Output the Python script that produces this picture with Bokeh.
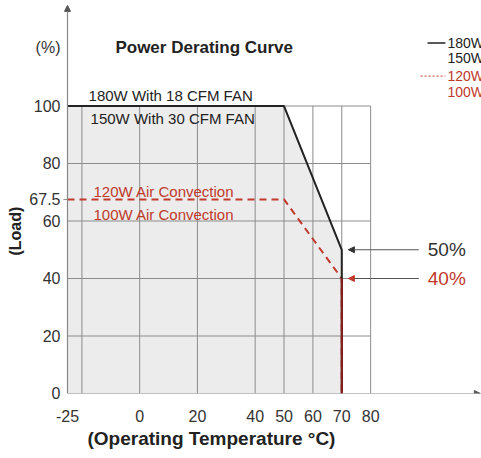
from bokeh.plotting import figure
from bokeh.models import FixedTicker, Title, Arrow, NormalHead
from bokeh.core.properties import value
from bokeh.embed import file_html
from bokeh.resources import INLINE

# ---- data ----
x_ticks = [-25, 0, 20, 40, 50, 60, 70, 80]
y_ticks = [0, 20, 40, 60, 67.5, 80, 100]
v_grid = [-20, 0, 20, 40, 50, 60, 70, 80]
h_grid = [20, 40, 60, 80, 100]
fan_temp = [-25, 50, 70, 70]
fan_load = [100, 100, 50, 0]
conv_temp = [-25, 50, 70, 70]
conv_load = [67.5, 67.5, 40, 0]
fan_labels = ["180W With 18 CFM FAN", "150W With 30 CFM FAN"]
conv_labels = ["120W Air Convection", "100W Air Convection"]
legend_fan = ["180W", "150W"]
legend_conv = ["120W", "100W"]
end_levels = [50, 40]
end_texts = ["50%", "40%"]
unit_level = 120.5
unit_text = "(%)"

FONT = "Liberation Sans"
RED = "#c0392b"
GRID = "#8c8c8c"

W, H = 481, 458
p = figure(width=W, height=H, output_backend="svg", toolbar_location=None,
           x_range=(-26.73, 118.4), y_range=(0, 136.7),
           min_border_left=62, min_border_right=0, min_border_top=0,
           min_border_bottom=65)
p.outline_line_color = None
p.xgrid.visible = False
p.ygrid.visible = False
p.background_fill_color = "white"

# axes
p.xaxis.ticker = FixedTicker(ticks=x_ticks)
p.xaxis.major_label_overrides = {-25: "-25"}
p.yaxis.ticker = FixedTicker(ticks=y_ticks + [unit_level])
p.yaxis.major_label_overrides = {67.5: "67.5", unit_level: unit_text}
for ax in (p.xaxis[0], p.yaxis[0]):
    ax.axis_line_color = None
    ax.minor_tick_line_color = None
    ax.major_tick_line_color = None
    ax.major_label_text_font = FONT
    ax.major_label_text_font_size = "16px"
    ax.major_label_text_color = "#333333"
p.xaxis.major_label_standoff = 10
p.yaxis.major_tick_out = 0
p.yaxis.major_tick_in = 0
p.yaxis.major_label_standoff = 2

# axis titles
p.add_layout(Title(text="(Operating Temperature °C)", align="left", offset=25,
                   text_font=FONT, text_font_size="19px", text_font_style="bold",
                   text_color="#222222", standoff=2), "below")
p.add_layout(Title(text="(Load)", align="left", offset=138,
                   text_font=FONT, text_font_size="16px", text_font_style="bold",
                   text_color="#222222", standoff=6), "left")

# shaded area under fan curve
p.patch(x=[-25] + fan_temp, y=[0] + fan_load, fill_color="#ececec", line_color=None)

# grid
p.segment(x0=v_grid, y0=[0] * len(v_grid), x1=v_grid, y1=[100] * len(v_grid),
          line_color=GRID, line_width=1)
p.segment(x0=[-25] * len(h_grid), y0=h_grid, x1=[80] * len(h_grid), y1=h_grid,
          line_color=GRID, line_width=1)
# small tick at 67.5
p.segment(x0=[-26.4], y0=[67.5], x1=[-25], y1=[67.5], line_color=GRID, line_width=1)

# axis lines with arrows
p.add_layout(Arrow(x_start=-25, y_start=0, x_end=118.0, y_end=0, line_color="#888888",
                   line_width=1.2, end=NormalHead(size=6, fill_color="#555555", line_color="#555555")))
p.add_layout(Arrow(x_start=-25, y_start=0, x_end=-25, y_end=135, line_color="#888888",
                   line_width=1.2, end=NormalHead(size=6, fill_color="#555555", line_color="#555555")))

# curves
p.line(conv_temp, conv_load, line_color=RED, line_width=2, line_dash="7 5")
p.line(fan_temp, fan_load, line_color="#222222", line_width=2)
p.line(conv_temp[2:], conv_load[2:], line_color="#8b1a1a", line_width=2)

# in-chart labels
p.text(x=[-17.7, -17.0], y=[103.5, 95.8], text=fan_labels, text_font=value(FONT),
       text_font_size="15px", text_color="#222222", text_baseline="middle")
p.text(x=[-16, -16], y=[70.4, 62.4], text=conv_labels, text_font=value(FONT),
       text_font_size="15px", text_color=RED, text_baseline="middle")
p.text(x=[-8.4], y=[120.5], text=["Power Derating Curve"], text_font=value(FONT),
       text_font_size="17px", text_font_style="bold", text_color="#222222",
       text_baseline="middle")

# legend (top right)
p.line([99.7, 105.9], [121.9, 121.9], line_color="#222222", line_width=1.5)
p.line([97.3, 105.9], [110.4, 110.4], line_color=RED, line_width=1, line_dash="2 2")
p.text(x=[106.6, 106.6], y=[121.9, 116.7], text=legend_fan, text_font=value(FONT),
       text_font_size="14px", text_color="#222222", text_baseline="middle")
p.text(x=[106.6, 106.6], y=[110.4, 104.9], text=legend_conv, text_font=value(FONT),
       text_font_size="14px", text_color=RED, text_baseline="middle")

# end-level arrows
for lvl, col in zip(end_levels, ["#333333", RED]):
    p.add_layout(Arrow(x_start=96.7, y_start=lvl, x_end=72.3, y_end=lvl, line_color="#555555",
                       line_width=1, end=NormalHead(size=6, fill_color=col, line_color=col)))
p.text(x=[99.8, 99.8], y=end_levels, text=end_texts, text_font=value(FONT),
       text_font_size="19px", text_color=["#333333", RED], text_baseline="middle")

open("out.html", "w").write(file_html(p, INLINE))
